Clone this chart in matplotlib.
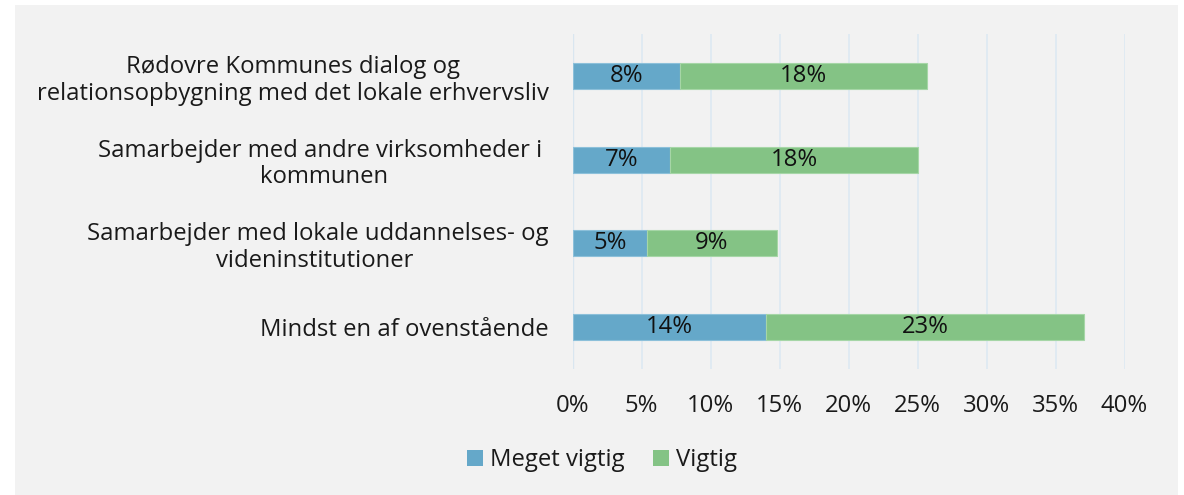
import matplotlib
matplotlib.use("Agg")
import matplotlib.pyplot as plt
from matplotlib.patches import Rectangle, Patch

plt.rcParams['font.family'] = ['Open Sans', 'DejaVu Sans']

categories = [
    "Rødovre Kommunes dialog og\nrelationsopbygning med det lokale erhvervsliv",
    "Samarbejder med andre virksomheder i \nkommunen",
    "Samarbejder med lokale uddannelses- og\nvideninstitutioner ",
    "Mindst en af ovenstående",
]
meget_vigtig = [7.8, 7.1, 5.4, 14.0]
vigtig = [17.9, 17.9, 9.4, 23.1]
series_names = ["Meget vigtig", "Vigtig"]
xticks = [0, 5, 10, 15, 20, 25, 30, 35, 40]

c_blue = "#65a8c9"
c_green = "#84c385"
bg = "#f2f2f2"
grid_c = "#dde9f2"
fs = 17.2

fig = plt.figure(figsize=(11.84, 4.95), dpi=100, facecolor="white")
fig.patches.append(Rectangle((15 / 1184, 0), (1178 - 15) / 1184, 1 - 5 / 495,
                             transform=fig.transFigure, facecolor=bg,
                             edgecolor="none", zorder=-10))

ax = fig.add_axes([572.5 / 1184, 1 - 369 / 495, (1124.5 - 572.5) / 1184, (369 - 34) / 495])
ax.set_facecolor("none")

y = list(range(len(categories)))
h = 0.31
ax.barh(y, meget_vigtig, height=h, color=c_blue, edgecolor="#8cc0da", linewidth=0.8, zorder=3)
ax.barh(y, vigtig, left=meget_vigtig, height=h, color=c_green, edgecolor="#a6d6a7", linewidth=0.8, zorder=3)

for yi, a, b in zip(y, meget_vigtig, vigtig):
    ax.text(a / 2, yi, f"{a:.0f}%", ha="center", va="center", fontsize=fs, color="#111111", zorder=4)
    ax.text(a + b / 2, yi, f"{b:.0f}%", ha="center", va="center", fontsize=fs, color="#111111", zorder=4)

ax.set_xlim(0, 40)
ax.set_ylim(3.5, -0.5)
ax.set_xticks(xticks)
ax.set_xticklabels([f"{t}%" for t in xticks])
ax.set_yticks(y)
ax.set_yticklabels(categories, multialignment="center", linespacing=1.15)
ax.tick_params(axis="both", length=0, labelsize=fs, colors="#1a1a1a")
ax.tick_params(axis="x", pad=18)
ax.tick_params(axis="y", pad=17)
for s in ax.spines.values():
    s.set_visible(False)
ax.grid(axis="x", color=grid_c, linewidth=1.2, zorder=0)
ax.axvline(0, color="#c8dcea", linewidth=1.6, zorder=1)

handles = [Patch(facecolor=c_blue, edgecolor="none"), Patch(facecolor=c_green, edgecolor="none")]
fig.legend(handles, series_names, loc="center", bbox_to_anchor=(602 / 1184, 1 - 460 / 495),
           ncol=2, frameon=False, fontsize=fs, handlelength=0.65, handleheight=0.65,
           handletextpad=0.3, columnspacing=1.2, labelcolor="#1a1a1a")

fig.savefig("out.png", dpi=100, facecolor="white")
